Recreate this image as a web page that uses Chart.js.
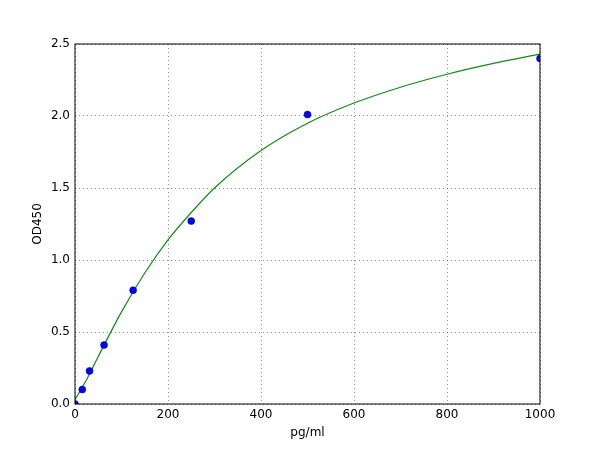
<!DOCTYPE html>
<html>
<head>
<meta charset="utf-8">
<script src="https://cdn.jsdelivr.net/npm/chart.js@4/dist/chart.umd.min.js"></script>
<style>
  html, body { margin: 0; padding: 0; background: #fff; }
  #chart { display: block; }
</style>
</head>
<body>
<canvas id="chart" width="600" height="450"></canvas>
<script>
// standard points (concentration vs OD)
const concs = [0, 15.625, 31.25, 62.5, 125, 250, 500, 1000];
const odValues = [0.0, 0.10, 0.23, 0.41, 0.79, 1.27, 2.01, 2.40];

// fitted curve
const curveX = [0, 25, 50, 100, 150, 200, 250, 300, 400, 500, 600, 700, 800, 900, 1000];
const curveY = [0.03, 0.17, 0.33, 0.64, 0.91, 1.14, 1.33, 1.50, 1.76, 1.95, 2.09, 2.20, 2.29, 2.365, 2.43];

const xTicks = [0, 200, 400, 600, 800, 1000];
const yTicks = [0.0, 0.5, 1.0, 1.5, 2.0, 2.5];

Chart.defaults.font.family = 'DejaVu Sans';
Chart.defaults.font.size = 12;
Chart.defaults.color = '#000';

// box round the plot area
const frame = {
  id: 'frame',
  afterDatasetsDraw(chart) {
    const { ctx, chartArea: a } = chart;
    ctx.save();
    ctx.strokeStyle = '#000';
    ctx.lineWidth = 1;
    ctx.strokeRect(a.left, a.top, a.right - a.left, a.bottom - a.top);
    ctx.restore();
  }
};

const ctx = document.getElementById('chart');
new Chart(ctx, {
  type: 'scatter',
  data: {
    datasets: [{
      type: 'line',
      data: curveX.map((x, i) => ({ x: x, y: curveY[i] })),
      borderColor: '#138a13',
      borderWidth: 1.2,
      pointRadius: 0,
      cubicInterpolationMode: 'monotone',
      fill: false,
      order: 2
    }, {
      data: concs.map((x, i) => ({ x: x, y: odValues[i] })),
      backgroundColor: '#0000ff',
      borderColor: '#00008b',
      borderWidth: 0.5,
      pointRadius: 3.5,
      order: 1
    }]
  },
  options: {
    responsive: false,
    animation: false,
    layout: { padding: { top: 44, right: 60, left: 0, bottom: 0 } },
    plugins: { legend: { display: false }, tooltip: { enabled: false } },
    scales: {
      x: {
        type: 'linear',
        min: 0, max: 1000,
        afterBuildTicks: s => { s.ticks = xTicks.map(v => ({ value: v })); },
        afterFit: s => { s.height = 46; },
        grid: { color: 'rgba(0,0,0,0.55)', drawTicks: false, lineWidth: 0.8 },
        border: { display: false, dash: [1, 3] },
        ticks: { padding: 4, maxRotation: 0, callback: v => String(v) },
        title: { display: true, text: 'pg/ml', padding: { top: 0, bottom: 10 } }
      },
      y: {
        type: 'linear',
        min: 0, max: 2.5,
        afterBuildTicks: s => { s.ticks = yTicks.map(v => ({ value: v })); },
        afterFit: s => { s.width = 75; },
        grid: { color: 'rgba(0,0,0,0.55)', drawTicks: false, lineWidth: 0.8 },
        border: { display: false, dash: [1, 3] },
        ticks: { padding: 5, callback: v => v.toFixed(1) },
        title: { display: true, text: 'OD450', padding: { top: 31, bottom: 0 } }
      }
    }
  },
  plugins: [frame]
});
</script>
</body>
</html>
